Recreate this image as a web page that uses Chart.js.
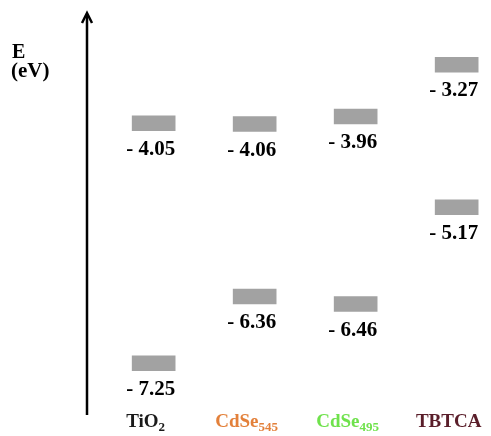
<!DOCTYPE html>
<html><head><meta charset="utf-8">
<script src="https://cdn.jsdelivr.net/npm/chart.js@4"></script>
<style>html,body{margin:0;background:#fff}</style>
</head><body>
<canvas id="c" width="491" height="436"></canvas>
<script>
"use strict";
// energy levels (eV) per material
const materials = ["TiO2", "CdSe545", "CdSe495", "TBTCA"];
const labelMain = ["TiO", "CdSe", "CdSe", "TBTCA"];
const labelSub = ["2", "545", "495", ""];
const labelColors = ["#1a1a1a", "#E3803A", "#6FE24C", "#5A1E2A"];
const upperLevels = [-4.05, -4.06, -3.96, -3.27];
const lowerLevels = [-7.25, -6.36, -6.46, -5.17];

const HALF = 0.1;           // half height of a level bar, eV
const SERIF = "'Liberation Serif', 'Times New Roman', serif";
const bar = levels => levels.map((v, i) => ({ x: i, y: [v - HALF, v + HALF] }));

const decor = {
  id: "decor",
  afterDatasetsDraw(chart) {
    const { ctx, chartArea: a, scales: { x } } = chart;
    ctx.save();
    // axis arrow
    ctx.strokeStyle = "#000"; ctx.lineWidth = 2.5; ctx.lineCap = "butt";
    ctx.beginPath(); ctx.moveTo(a.left, a.top + 2); ctx.lineTo(a.left, a.bottom); ctx.stroke();
    ctx.lineJoin = "miter";
    ctx.beginPath(); ctx.moveTo(a.left - 5, a.top + 10); ctx.lineTo(a.left, a.top); ctx.lineTo(a.left + 5, a.top + 10); ctx.stroke();

    // axis title
    ctx.fillStyle = "#000"; ctx.textAlign = "left"; ctx.textBaseline = "alphabetic";
    ctx.font = "bold 20px " + SERIF;
    ctx.fillText("E", 12, 58);
    ctx.font = "bold 21px " + SERIF;
    ctx.fillText("(eV)", 11, 77);

    // value labels under each bar
    ctx.font = "bold 21px " + SERIF; ctx.textAlign = "center";
    [upperLevels, lowerLevels].forEach((levels, d) => {
      chart.getDatasetMeta(d).data.forEach((el, i) => {
        const bottom = Math.max(el.y, el.base);
        ctx.fillText("- " + Math.abs(levels[i]).toFixed(2), el.x - 3, bottom + 24);
      });
    });

    // category labels with subscripts
    materials.forEach((m, i) => {
      const cx = x.getPixelForValue(i) - 8, base = 427;
      ctx.font = "bold 19px " + SERIF;
      const w1 = ctx.measureText(labelMain[i]).width;
      ctx.font = "bold 13px " + SERIF;
      const w2 = labelSub[i] ? ctx.measureText(labelSub[i]).width : 0;
      const x0 = cx - (w1 + w2) / 2;
      ctx.fillStyle = labelColors[i]; ctx.textAlign = "left";
      ctx.font = "bold 19px " + SERIF;
      ctx.fillText(labelMain[i], x0, base);
      if (w2) { ctx.font = "bold 13px " + SERIF; ctx.fillText(labelSub[i], x0 + w1, base + 4); }
    });
    ctx.restore();
  }
};

new Chart(document.getElementById("c"), {
  type: "bar",
  data: {
    datasets: [
      { label: "upper", data: bar(upperLevels), backgroundColor: "#A2A2A2", barThickness: 43, grouped: false },
      { label: "lower", data: bar(lowerLevels), backgroundColor: "#A2A2A2", barThickness: 43, grouped: false },
    ]
  },
  options: {
    responsive: false,
    animation: false,
    layout: { padding: { left: 87, top: 13, right: 0, bottom: 21 } },
    plugins: { legend: { display: false }, tooltip: { enabled: false } },
    scales: {
      x: { type: "linear", min: -0.66, max: 3.34, offset: false, display: false },
      y: { min: -7.94, max: -2.58, display: false }
    }
  },
  plugins: [decor]
});
</script>
</body></html>
